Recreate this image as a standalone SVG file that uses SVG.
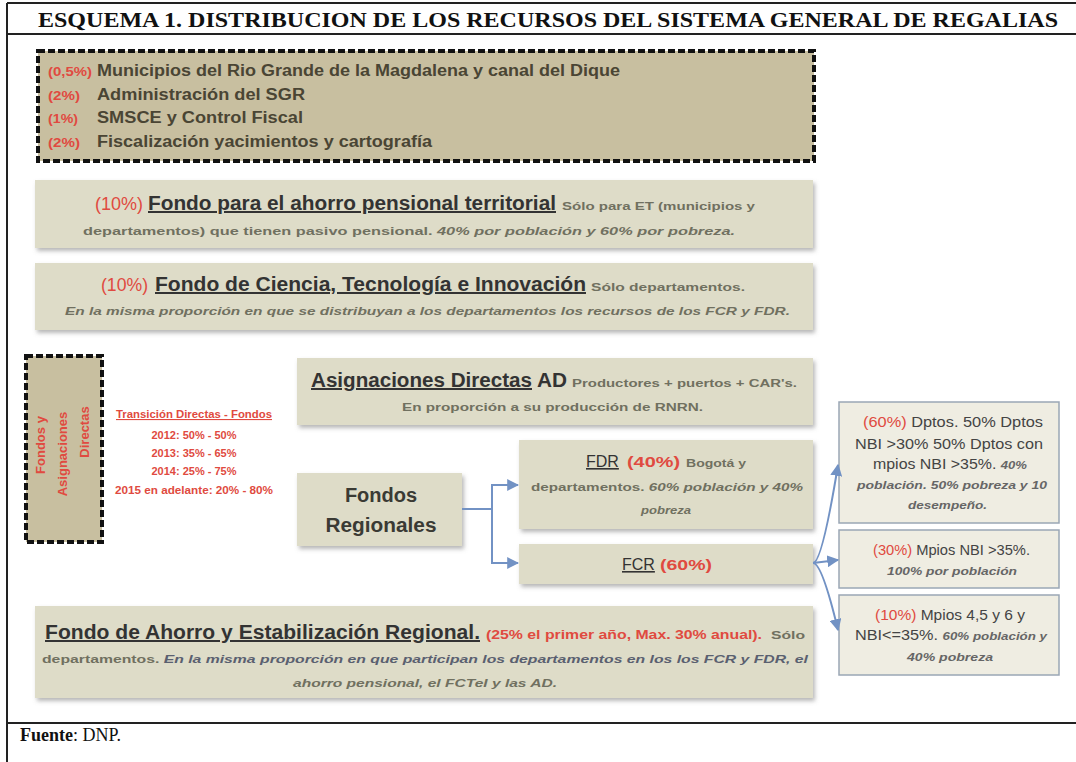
<svg xmlns="http://www.w3.org/2000/svg" width="1076" height="762" viewBox="0 0 1076 762">
<defs>
<style>
.frame{stroke:#222;stroke-width:2;fill:none}
.box{fill:#dedcc8}
.rbox{fill:#efede2;stroke:#9aa7b5;stroke-width:1.5}
.dash{stroke:#111;stroke-width:4;stroke-dasharray:7 3;fill:#c8bfa0}
.t{font-family:"Liberation Sans",Arial,sans-serif}
.h{font-weight:bold;fill:#333;text-decoration:underline;font-size:20px}
.r{fill:#e04a40}
.g{fill:#707060;font-weight:bold;font-size:11px}
.i{font-style:italic}
.n{fill:#444;font-size:14px}
.bi{font-style:italic;font-weight:bold;fill:#666;font-size:11.5px}
.tb{font-size:16px;font-weight:bold;fill:#4a4534}
.tr{font-size:12px;font-weight:bold;fill:#e04a40}
.con{stroke:#7292c4;stroke-width:2;fill:none}
</style>
<filter id="sh" x="-5%" y="-10%" width="110%" height="130%">
<feDropShadow dx="2" dy="3" stdDeviation="2" flood-color="#888" flood-opacity="0.6"/>
</filter>
<marker id="ar" viewBox="0 0 10 10" refX="9" refY="5" markerWidth="6" markerHeight="6" orient="auto">
<path d="M0,0 L10,5 L0,10 z" fill="#7292c4"/>
</marker>
</defs>
<rect width="1076" height="762" fill="#fff"/>
<g id="frame">
<line class="frame" x1="7" y1="3" x2="1076" y2="3"/>
<line class="frame" x1="7" y1="34" x2="1076" y2="34"/>
<line class="frame" x1="7" y1="3" x2="7" y2="762"/>
<line class="frame" x1="7" y1="723" x2="1076" y2="723"/>
<text x="38" y="27" font-family="Liberation Serif,serif" font-weight="bold" font-size="21" textLength="1020" lengthAdjust="spacingAndGlyphs" fill="#111">ESQUEMA 1. DISTRIBUCION DE LOS RECURSOS DEL SISTEMA GENERAL DE REGALIAS</text>
<text x="20" y="741" font-family="Liberation Serif,serif" font-size="18" fill="#111"><tspan font-weight="bold">Fuente</tspan>: DNP.</text>
</g>
<g id="top-box" class="t">
<rect class="dash" x="38" y="51" width="776" height="110"/>
<text class="tr" x="48" y="76" textLength="44" lengthAdjust="spacingAndGlyphs">(0,5%)</text>
<text class="tb" x="97" y="76" textLength="523" lengthAdjust="spacingAndGlyphs">Municipios del Rio Grande de la Magdalena y canal del Dique</text>
<text class="tr" x="48" y="100" textLength="32" lengthAdjust="spacingAndGlyphs">(2%)</text>
<text class="tb" x="97" y="100" textLength="208" lengthAdjust="spacingAndGlyphs">Administración del SGR</text>
<text class="tr" x="48" y="123" textLength="30" lengthAdjust="spacingAndGlyphs">(1%)</text>
<text class="tb" x="97" y="123" textLength="206" lengthAdjust="spacingAndGlyphs">SMSCE y Control Fiscal</text>
<text class="tr" x="48" y="147" textLength="32" lengthAdjust="spacingAndGlyphs">(2%)</text>
<text class="tb" x="97" y="147" textLength="335" lengthAdjust="spacingAndGlyphs">Fiscalización yacimientos y cartografía</text>
</g>
<g id="pensional" class="t">
<rect class="box" x="35" y="180" width="778" height="68" filter="url(#sh)"/>
<text class="r" x="95" y="210" font-size="18" textLength="48" lengthAdjust="spacingAndGlyphs">(10%)</text>
<text class="h" x="148" y="210" textLength="408" lengthAdjust="spacingAndGlyphs">Fondo para el ahorro pensional territorial</text>
<text class="g" x="562" y="210" textLength="193" lengthAdjust="spacingAndGlyphs">Sólo para ET (municipios y</text>
<text class="g" x="83" y="235" textLength="652" lengthAdjust="spacingAndGlyphs">departamentos) que tienen pasivo pensional. <tspan class="i">40% por población y 60% por pobreza.</tspan></text>
</g>
<g id="ciencia" class="t">
<rect class="box" x="35" y="263" width="778" height="67" filter="url(#sh)"/>
<text class="r" x="101" y="291" font-size="18" textLength="47" lengthAdjust="spacingAndGlyphs">(10%)</text>
<text class="h" x="155" y="291" textLength="431" lengthAdjust="spacingAndGlyphs">Fondo de Ciencia, Tecnología e Innovación</text>
<text class="g" x="591" y="291" textLength="154" lengthAdjust="spacingAndGlyphs">Sólo departamentos.</text>
<text class="g i" x="65" y="315" font-size="11.5" textLength="725" lengthAdjust="spacingAndGlyphs" fill="#5a6070">En la misma proporción en que se distribuyan a los departamentos los recursos de los FCR y FDR.</text>
</g>
<g id="fondos-asignaciones" class="t">
<rect class="dash" x="26" y="356" width="76" height="186"/>
<g class="r" font-size="13" font-weight="bold" text-anchor="middle">
<text transform="translate(45,445) rotate(-90)">Fondos y</text>
<text transform="translate(67,454) rotate(-90)">Asignaciones</text>
<text transform="translate(89,432) rotate(-90)">Directas</text>
</g>
</g>
<g id="transicion" class="t r" font-size="11" font-weight="bold" text-anchor="middle">
<text x="194" y="418" text-decoration="underline" textLength="156" lengthAdjust="spacingAndGlyphs">Transición Directas - Fondos</text>
<text x="194" y="439">2012: 50% - 50%</text>
<text x="194" y="457">2013: 35% - 65%</text>
<text x="194" y="475">2014: 25% - 75%</text>
<text x="194" y="494" textLength="158" lengthAdjust="spacingAndGlyphs">2015 en adelante: 20% - 80%</text>
</g>
<g id="asignaciones" class="t">
<rect class="box" x="297" y="358" width="516" height="67" filter="url(#sh)"/>
<text class="h" x="311" y="387" textLength="221" lengthAdjust="spacingAndGlyphs">Asignaciones Directas</text>
<text x="537" y="387" font-size="20" font-weight="bold" fill="#333" textLength="30" lengthAdjust="spacingAndGlyphs">AD</text>
<text class="g" x="572" y="387" textLength="225" lengthAdjust="spacingAndGlyphs">Productores + puertos + CAR's.</text>
<text class="g" x="402" y="411" textLength="301" lengthAdjust="spacingAndGlyphs">En proporción a su producción de RNRN.</text>
</g>
<g id="fondos-regionales" class="t">
<rect class="box" x="297" y="473" width="165" height="73" filter="url(#sh)"/>
<text x="381" y="502" font-size="20" font-weight="bold" fill="#3a3a34" text-anchor="middle">Fondos</text>
<text x="381" y="532" font-size="20" font-weight="bold" fill="#3a3a34" text-anchor="middle" textLength="111" lengthAdjust="spacingAndGlyphs">Regionales</text>
</g>
<g id="fdr" class="t">
<rect class="box" x="519" y="440" width="294" height="89" filter="url(#sh)"/>
<text x="586" y="467" font-size="16" fill="#333" text-decoration="underline">FDR</text>
<text class="r" x="627" y="467" font-size="15" font-weight="bold" textLength="53" lengthAdjust="spacingAndGlyphs">(40%)</text>
<text class="g" x="686" y="467" textLength="60" lengthAdjust="spacingAndGlyphs">Bogotá y</text>
<text class="g" x="531" y="491" textLength="272" lengthAdjust="spacingAndGlyphs">departamentos. <tspan class="i">60% población y 40%</tspan></text>
<text class="g i" x="666" y="514" text-anchor="middle" textLength="50" lengthAdjust="spacingAndGlyphs">pobreza</text>
</g>
<g id="fcr" class="t">
<rect class="box" x="519" y="544" width="294" height="40" filter="url(#sh)"/>
<text x="622" y="570" font-size="16" fill="#333" text-decoration="underline">FCR</text>
<text class="r" x="660" y="570" font-size="15" font-weight="bold" textLength="52" lengthAdjust="spacingAndGlyphs">(60%)</text>
</g>
<g id="fcr-60" class="t">
<rect class="rbox" x="839" y="402" width="220" height="121"/>
<text class="n" x="863" y="427" textLength="180" lengthAdjust="spacingAndGlyphs"><tspan class="r">(60%)</tspan> Dptos. 50% Dptos</text>
<text class="n" x="855" y="449" textLength="188" lengthAdjust="spacingAndGlyphs">NBI &gt;30% 50% Dptos con</text>
<text class="n" x="873" y="469" textLength="154" lengthAdjust="spacingAndGlyphs">mpios NBI &gt;35%. <tspan class="bi">40%</tspan></text>
<text class="bi" x="857" y="489" textLength="190" lengthAdjust="spacingAndGlyphs">población. 50% pobreza y 10</text>
<text class="bi" x="908" y="509" textLength="79" lengthAdjust="spacingAndGlyphs">desempeño.</text>
</g>
<g id="fcr-30" class="t">
<rect class="rbox" x="839" y="530" width="220" height="58"/>
<text class="n" x="873" y="555" textLength="157" lengthAdjust="spacingAndGlyphs"><tspan class="r">(30%)</tspan> Mpios NBI &gt;35%.</text>
<text class="bi" x="887" y="575" textLength="130" lengthAdjust="spacingAndGlyphs">100% por población</text>
</g>
<g id="fcr-10" class="t">
<rect class="rbox" x="839" y="595" width="220" height="80"/>
<text class="n" x="875" y="620" textLength="150" lengthAdjust="spacingAndGlyphs"><tspan class="r">(10%)</tspan> Mpios 4,5 y 6 y</text>
<text class="n" x="855" y="640" textLength="192" lengthAdjust="spacingAndGlyphs">NBI&lt;=35%. <tspan class="bi">60% población y</tspan></text>
<text class="bi" x="907" y="661" textLength="86" lengthAdjust="spacingAndGlyphs">40% pobreza</text>
</g>
<g id="ahorro-estabilizacion" class="t">
<rect class="box" x="35" y="606" width="778" height="92" filter="url(#sh)"/>
<text class="h" x="45" y="639" textLength="435" lengthAdjust="spacingAndGlyphs">Fondo de Ahorro y Estabilización Regional.</text>
<text class="tr" x="486" y="639" textLength="276" lengthAdjust="spacingAndGlyphs">(25% el primer año, Max. 30% anual).</text>
<text class="g" x="771" y="639" textLength="34" lengthAdjust="spacingAndGlyphs">Sólo</text>
<text class="g" x="42" y="663" textLength="766" lengthAdjust="spacingAndGlyphs">departamentos. <tspan class="i" fill="#5a6070">En la misma proporción en que participan los departamentos en los los FCR y FDR, el</tspan></text>
<text class="g i" x="293" y="687" textLength="264" lengthAdjust="spacingAndGlyphs" fill="#5a6070">ahorro pensional, el FCTeI y las AD.</text>
</g>
<g id="connectors">
<path class="con" d="M462,509 H492 V485 H518" marker-end="url(#ar)"/>
<path class="con" d="M492,509 V563 H518" marker-end="url(#ar)"/>
<path class="con" d="M813,563 Q822,563 838,465" marker-end="url(#ar)"/>
<path class="con" d="M813,563 L838,560" marker-end="url(#ar)"/>
<path class="con" d="M813,563 Q822,563 838,630" marker-end="url(#ar)"/>
</g>
</svg>
